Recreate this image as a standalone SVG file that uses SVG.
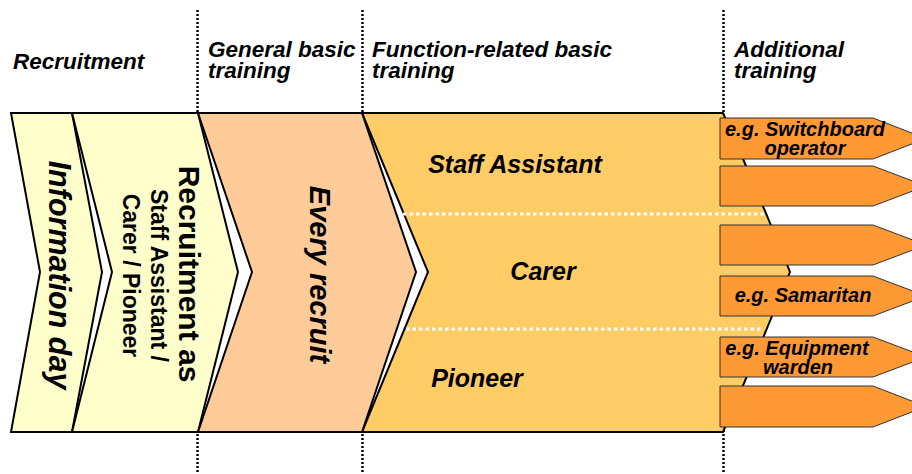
<svg xmlns="http://www.w3.org/2000/svg" width="912" height="474" viewBox="0 0 912 474">
<style>
text{font-family:"Liberation Sans",Arial,sans-serif;font-weight:bold;fill:#000}
.hd{font-size:22.5px;font-style:italic}
.it{font-style:italic}
.sec{stroke:#000;stroke-width:2;stroke-linejoin:miter}
.tag{fill:#FF9933;stroke:#333;stroke-width:1}
.tt{font-size:20px;font-style:italic;text-anchor:middle}
.vd{stroke:#000;stroke-width:2.5;stroke-dasharray:2 2;fill:none}
.wd{stroke:#fff;stroke-width:3;stroke-dasharray:3.5 3;fill:none}
</style>
<rect width="912" height="474" fill="#fff"/>
<g id="dividers">
<line class="vd" x1="197.5" y1="10" x2="197.5" y2="474"/>
<line class="vd" x1="362.5" y1="10" x2="362.5" y2="474"/>
<line class="vd" x1="723.5" y1="10" x2="723.5" y2="474"/>
</g>
<g id="headers">
<text class="hd" x="13" y="69">Recruitment</text>
<text class="hd" x="208" y="57">General basic</text>
<text class="hd" x="208" y="78">training</text>
<text class="hd" x="372" y="57">Function-related basic</text>
<text class="hd" x="372" y="78">training</text>
<text class="hd" x="734" y="57">Additional</text>
<text class="hd" x="734" y="78">training</text>
</g>
<g id="function-related">
<path class="sec" fill="#FFCC66" d="M362,113 L723,113 Q757,190 790,272 Q757,354 723,432 L362,432 L428,272 Z"/>
<line class="wd" x1="403" y1="214" x2="765" y2="214"/>
<line class="wd" x1="406" y1="329" x2="763" y2="329"/>
<text class="it" x="515" y="173" font-size="25" text-anchor="middle">Staff Assistant</text>
<text class="it" x="543" y="280" font-size="25" text-anchor="middle">Carer</text>
<text class="it" x="477" y="387" font-size="25" text-anchor="middle">Pioneer</text>
</g>
<g id="information-day">
<path class="sec" fill="#FFFFCC" d="M11,113 L72,113 L102,272 L72,432 L11,432 L40,272 Z"/>
<text class="it" font-size="30.5" text-anchor="middle" transform="translate(49,275) rotate(90)">Information day</text>
</g>
<g id="recruitment-as">
<path class="sec" fill="#FFFFCC" d="M72,113 L198,113 L238,272 L198,432 L72,432 L112,272 Z"/>
<text font-size="30" text-anchor="middle" transform="translate(179,274) rotate(90)">Recruitment as</text>
<text font-size="23" text-anchor="middle" transform="translate(151,275.5) rotate(90)">Staff Assistant /</text>
<text font-size="23" text-anchor="middle" transform="translate(123,275.5) rotate(90)">Carer / Pioneer</text>
</g>
<g id="every-recruit">
<path class="sec" fill="#FFCC99" d="M198,113 L362,113 L416,272 L362,432 L198,432 L252,272 Z"/>
<text class="it" font-size="29" text-anchor="middle" transform="translate(310,274.5) rotate(90)">Every recruit</text>
</g>
<g id="tag-switchboard">
<path class="tag" d="M720,118 L873,118 L926,138.5 L873,159 L720,159 Z"/>
<text class="tt" x="805" y="136">e.g. Switchboard</text>
<text class="tt" x="805" y="155">operator</text>
</g>
<g id="tag-2"><path class="tag" d="M720,166 L873,166 L926,186 L873,206 L720,206 Z"/></g>
<g id="tag-3"><path class="tag" d="M720,225 L873,225 L926,245 L873,265 L720,265 Z"/></g>
<g id="tag-samaritan">
<path class="tag" d="M720,276 L873,276 L926,296 L873,316 L720,316 Z"/>
<text class="tt" x="803" y="302">e.g. Samaritan</text>
</g>
<g id="tag-equipment">
<path class="tag" d="M720,337 L873,337 L926,357 L873,377 L720,377 Z"/>
<text class="tt" x="797" y="355">e.g. Equipment</text>
<text class="tt" x="798" y="374">warden</text>
</g>
<g id="tag-6"><path class="tag" d="M720,386 L873,386 L926,406.5 L873,427 L720,427 Z"/></g>
</svg>
